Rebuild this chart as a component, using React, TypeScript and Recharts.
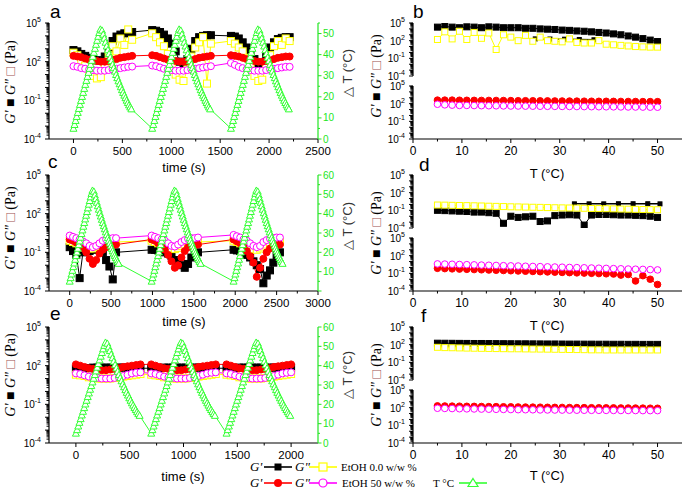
import React from 'react';
import { ComposedChart, Line, XAxis, YAxis } from 'recharts';

const SANS = '"Liberation Sans", Arial, Helvetica, sans-serif';
const SERIF = '"Liberation Serif", "Times New Roman", serif';
const BLACK = '#000000';
const YELLOW = '#ffff00';
const RED = '#ff0000';
const PINK = '#ff00ff';
const GREEN = '#33ff33';
const GREEN_AXIS = '#22e622';

// ---------- temperature ramp of one heating/cooling cycle (s within cycle, deg C) ----------
const tempUpTimes = [0, 11, 22, 33, 44, 55, 66, 77, 88, 99, 110, 121, 132, 143, 154, 165, 176, 187, 198, 209, 220, 231, 242, 253, 264, 275];
const tempUpValues = [5, 6.8, 8.7, 10.6, 12.5, 14.4, 16.3, 18.2, 20.1, 22.0, 23.9, 25.8, 27.7, 29.6, 31.5, 33.4, 35.3, 37.2, 39.1, 41.0, 42.9, 44.8, 46.7, 48.6, 50.4, 52];
const tempDownTimes = [292, 304, 316, 328, 340, 352, 364, 376, 388, 400, 412, 424, 436, 448, 460, 472, 484, 496, 508, 520, 532, 544, 556, 568, 580, 592];
const tempDownValues = [51.5, 49.6, 47.7, 45.8, 44.0, 42.2, 40.4, 38.7, 37.0, 35.3, 33.7, 32.1, 30.5, 29.0, 27.5, 26.1, 24.7, 23.3, 22.0, 20.7, 19.5, 18.3, 17.2, 16.1, 15.1, 14.2];

// ---------- panel a (log10 of modulus, Pa) ----------
const aCycleStarts = [0, 805, 1610];
const aGrid = [0, 40, 80, 120, 160, 200, 240, 280, 320, 360, 400, 440, 480, 520, 560, 600];
const aBlack = [
  [2.9, 2.8, 2.6, 2.45, 2.3, 2.2, 2.1, 2.1, 2.4, 3.0, 3.6, 3.95, 4.1, 4.2, 4.25, 4.3],
  [4.45, 4.4, 4.3, 4.1, 3.8, 3.4, 2.8, 2.0, 1.6, 2.2, 3.0, 3.6, 3.9, 4.0, 4.05, 4.05],
  [4.0, 3.95, 3.8, 3.5, 3.1, 2.7, 2.2, 1.8, 1.7, 2.4, 3.1, 3.5, 3.75, 3.85, 3.9, 3.9],
];
const aYellow = [
  [2.7, 2.5, 2.1, 1.7, 1.2, 0.9, 0.7, 0.8, 1.5, 2.5, 3.2, 2.8, 3.8, 3.3, 4.5, 3.7],
  [4.2, 3.9, 3.5, 3.2, 2.6, 1.8, 1.0, 0.6, 0.5, 1.4, 2.4, 3.1, 3.5, 3.9, 0.3, 3.4],
  [3.6, 3.4, 3.1, 2.8, 2.3, 1.6, 0.9, 0.5, 0.6, 1.6, 2.5, 3.2, 3.6, 3.3, 3.8, 3.6],
];
const aRed = [
  [2.45, 2.4, 2.35, 2.25, 2.15, 2.1, 2.05, 2.0, 2.0, 2.05, 2.15, 2.2, 2.3, 2.35, 2.4, 2.45],
  [2.5, 2.45, 2.35, 2.25, 2.15, 2.1, 2.05, 2.0, 2.0, 2.05, 2.1, 2.2, 2.3, 2.35, 2.4, 2.45],
  [2.5, 2.45, 2.4, 2.3, 2.2, 2.1, 2.05, 2.0, 2.0, 2.05, 2.1, 2.2, 2.3, 2.35, 2.4, 2.4],
];
const aPink = [
  [1.65, 1.6, 1.5, 1.45, 1.4, 1.35, 1.3, 1.3, 1.3, 1.35, 1.4, 1.45, 1.5, 1.55, 1.6, 1.62],
  [1.7, 1.65, 1.55, 1.45, 1.4, 1.35, 1.3, 1.3, 1.3, 1.35, 1.4, 1.45, 1.5, 1.55, 1.6, 1.65],
  [1.9, 1.75, 1.6, 1.5, 1.4, 1.35, 1.3, 1.3, 1.3, 1.35, 1.4, 1.45, 1.5, 1.55, 1.6, 1.6],
];

// ---------- panel c ----------
const cCycleStarts = [0, 990, 1980];
const cGrid = [0, 40, 80, 120, 160, 200, 240, 280, 320, 360, 400, 440, 480, 520, 560];
const cBlack = [
  [-0.6, -0.9, -1.2, -3.0, -1.0, -0.9, -0.9, -0.8, -0.7, -0.8, -1.0, -1.6, -2.1, -3.1, -1.0],
  [-0.8, -0.8, -0.85, -0.9, -1.0, -1.1, -1.3, -1.6, -1.8, -2.0, -2.2, -1.9, -1.4, -1.1, -1.0],
  [-0.8, -0.85, -0.9, -1.0, -1.2, -1.4, -1.7, -2.0, -2.3, -3.4, -2.8, -2.4, -1.8, -1.2, -1.0],
];
const cYellow = [
  [-0.1, -0.2, -0.3, -0.4, -0.5, -0.6, -0.7, -0.7, -0.6, -0.5, -0.4, -0.3, -0.3, -0.25, -0.2],
  [-0.1, -0.2, -0.3, -0.4, -0.5, -0.6, -0.7, -0.75, -0.65, -0.5, -0.4, -0.3, -0.3, -0.25, -0.2],
  [-0.1, -0.2, -0.3, -0.4, -0.5, -0.65, -0.75, -0.8, -0.7, -0.55, -0.4, -0.3, -0.3, -0.25, -0.2],
];
const cRed = [
  [0.0, -0.1, -0.25, -0.45, -0.7, -1.0, -1.5, -1.9, -1.6, -1.1, -0.8, -0.6, -0.5, -0.45, -0.4],
  [0.0, -0.1, -0.3, -0.5, -0.8, -1.2, -1.7, -2.2, -2.0, -1.4, -0.9, -0.6, -0.5, -0.45, -0.4],
  [0.0, -0.15, -0.3, -0.55, -0.9, -1.3, -1.8, -2.9, -2.2, -1.5, -1.0, -0.7, -0.5, -0.45, -0.4],
];
const cPink = [
  [0.3, 0.2, 0.1, 0.0, -0.15, -0.3, -0.5, -0.6, -0.5, -0.3, -0.1, 0.0, 0.05, 0.1, 0.1],
  [0.3, 0.2, 0.1, 0.0, -0.1, -0.3, -0.5, -0.55, -0.4, -0.2, -0.05, 0.05, 0.1, 0.1, 0.15],
  [0.35, 0.25, 0.15, 0.0, -0.1, -0.3, -0.5, -0.6, -0.5, -0.2, -0.05, 0.05, 0.1, 0.15, 0.15],
];

// ---------- panel e ----------
const eCycleStarts = [0, 700, 1400];
const eGrid = [0, 40, 80, 120, 160, 200, 240, 280, 320, 360, 400, 440, 480, 520, 560, 600];
const eBlack = [
  [1.75, 1.75, 1.8, 1.8, 1.85, 1.85, 1.85, 1.85, 1.85, 1.85, 1.85, 1.85, 1.85, 1.85, 1.8, 1.8],
  [1.8, 1.8, 1.8, 1.85, 1.85, 1.85, 1.85, 1.85, 1.85, 1.85, 1.85, 1.85, 1.85, 1.85, 1.8, 1.8],
  [1.8, 1.8, 1.8, 1.85, 1.85, 1.85, 1.85, 1.85, 1.85, 1.85, 1.85, 1.85, 1.85, 1.85, 1.85, 1.85],
];
const eYellow = [
  [1.3, 1.25, 1.2, 1.1, 1.05, 1.0, 1.0, 1.0, 1.0, 1.05, 1.1, 1.15, 1.2, 1.25, 1.3, 1.35],
  [1.3, 1.25, 1.2, 1.1, 1.05, 1.0, 1.0, 1.0, 1.0, 1.05, 1.1, 1.15, 1.2, 1.25, 1.3, 1.35],
  [1.3, 1.25, 1.2, 1.1, 1.05, 1.0, 1.0, 1.0, 1.0, 1.05, 1.1, 1.15, 1.2, 1.25, 1.3, 1.35],
];
const eRed = [
  [2.1, 2.0, 1.9, 1.8, 1.75, 1.7, 1.65, 1.65, 1.7, 1.75, 1.8, 1.9, 1.95, 2.0, 2.05, 2.1],
  [2.1, 2.0, 1.9, 1.8, 1.75, 1.7, 1.65, 1.65, 1.7, 1.75, 1.8, 1.9, 1.95, 2.0, 2.05, 2.1],
  [2.1, 2.0, 1.9, 1.8, 1.75, 1.7, 1.65, 1.65, 1.7, 1.75, 1.8, 1.9, 1.95, 2.0, 2.05, 2.1],
];
const ePink = [
  [1.4, 1.35, 1.25, 1.15, 1.1, 1.05, 1.0, 1.0, 1.0, 1.05, 1.1, 1.2, 1.3, 1.4, 1.45, 1.48],
  [1.4, 1.35, 1.25, 1.15, 1.1, 1.05, 1.0, 1.0, 1.0, 1.05, 1.1, 1.2, 1.3, 1.4, 1.45, 1.48],
  [1.4, 1.35, 1.25, 1.15, 1.1, 1.05, 1.0, 1.0, 1.0, 1.05, 1.1, 1.2, 1.3, 1.4, 1.45, 1.48],
];

// ---------- panels b, d, f (vs temperature) ----------
const tempGrid = [5, 6.5, 8, 9.5, 11, 12.5, 14, 15.5, 17, 18.5, 20, 21.5, 23, 24.5, 26, 27.5, 29, 30.5, 32, 33.5, 35, 36.5, 38, 39.5, 41, 42.5, 44, 45.5, 47, 48.5, 50];
const bBlack = [4.3, 4.4, 4.3, 4.2, 4.35, 4.3, 4.2, 4.35, 4.3, 4.2, 4.2, 4.2, 4.1, 4.1, 4.0, 3.95, 3.9, 3.8, 3.75, 3.65, 3.6, 3.5, 3.4, 3.3, 3.15, 3.0, 2.8, 2.6, 2.35, 2.1, 1.85];
const bYellow = [2.2, 3.5, 2.3, 3.6, 2.2, 3.4, 2.4, 3.3, 0.5, 3.0, 2.6, 2.0, 2.9, 1.9, 2.6, 2.0, 1.9, 1.8, 2.3, 1.7, 1.6, 1.6, 2.0, 1.4, 1.3, 1.2, 1.1, 1.0, 0.95, 0.9, 0.9];
const bBranchT = [25, 28, 31, 34, 37];
const bBranch = [2.3, 2.28, 2.25, 2.2, 2.15];
const bRed = [2.6, 2.6, 2.6, 2.58, 2.57, 2.56, 2.55, 2.55, 2.54, 2.53, 2.52, 2.5, 2.5, 2.49, 2.48, 2.47, 2.46, 2.45, 2.44, 2.43, 2.42, 2.41, 2.4, 2.4, 2.39, 2.38, 2.37, 2.36, 2.35, 2.35, 2.34];
const bPink = [1.9, 1.8, 1.75, 1.7, 1.7, 1.68, 1.66, 1.65, 1.64, 1.62, 1.6, 1.6, 1.58, 1.57, 1.56, 1.55, 1.54, 1.53, 1.52, 1.51, 1.5, 1.49, 1.48, 1.47, 1.46, 1.45, 1.44, 1.43, 1.42, 1.41, 1.4];

const dBlack = [-1.0, -1.05, -1.1, -1.15, -1.2, -1.3, -1.3, -1.4, -1.5, -3.2, -2.0, -2.2, -2.1, -2.0, -2.9, -2.8, -1.9, -1.8, -1.75, -1.8, -3.5, -1.8, -1.7, -1.7, -1.75, -1.8, -1.8, -1.85, -1.9, -2.0, -2.2];
const dYellow = [-0.1, -0.12, -0.15, -0.18, -0.2, -0.23, -0.26, -0.3, -0.33, -0.36, -0.4, -0.42, -0.45, -0.48, -0.5, -0.53, -0.56, -0.58, -0.6, -0.62, -0.65, -0.68, -0.7, -0.72, -0.75, -0.78, -0.8, -0.83, -0.86, -0.88, -0.9];
const dBranchT = [33, 36, 39, 42, 45, 48, 50.5];
const dBranch = [0.1, 0.1, 0.1, 0.12, 0.12, 0.12, 0.1];
const dRed = [-0.15, -0.2, -0.24, -0.28, -0.32, -0.36, -0.4, -0.44, -0.48, -0.52, -0.56, -0.6, -0.64, -0.68, -0.72, -0.76, -0.8, -0.84, -0.88, -0.92, -0.96, -1.0, -1.04, -1.08, -1.12, -1.3, -1.2, -2.3, -1.4, -2.0, -2.9];
const dPink = [0.6, 0.57, 0.54, 0.5, 0.47, 0.44, 0.4, 0.37, 0.34, 0.3, 0.27, 0.24, 0.2, 0.17, 0.14, 0.1, 0.07, 0.04, 0.0, -0.03, -0.06, -0.1, -0.13, -0.16, -0.2, -0.23, -0.27, -0.3, -0.33, -0.37, -0.42];

const fBlack = [2.25, 2.24, 2.23, 2.22, 2.21, 2.2, 2.2, 2.19, 2.18, 2.17, 2.16, 2.15, 2.15, 2.14, 2.13, 2.12, 2.12, 2.11, 2.1, 2.1, 2.09, 2.09, 2.08, 2.08, 2.07, 2.07, 2.06, 2.06, 2.05, 2.05, 2.05];
const fYellow = [1.55, 1.5, 1.48, 1.45, 1.42, 1.4, 1.38, 1.36, 1.34, 1.32, 1.3, 1.3, 1.28, 1.26, 1.25, 1.24, 1.22, 1.2, 1.18, 1.17, 1.15, 1.12, 1.12, 1.1, 1.1, 1.1, 1.1, 1.1, 1.1, 1.1, 1.1];
const fRed = [2.3, 2.28, 2.26, 2.25, 2.23, 2.22, 2.2, 2.18, 2.17, 2.15, 2.14, 2.12, 2.1, 2.09, 2.08, 2.06, 2.05, 2.04, 2.02, 2.01, 2.0, 1.99, 1.98, 1.97, 1.96, 1.95, 1.94, 1.93, 1.92, 1.91, 1.9];
const fPink = [1.9, 1.87, 1.85, 1.82, 1.8, 1.78, 1.76, 1.74, 1.72, 1.7, 1.68, 1.66, 1.65, 1.64, 1.62, 1.61, 1.6, 1.59, 1.58, 1.57, 1.56, 1.55, 1.55, 1.54, 1.53, 1.52, 1.52, 1.51, 1.5, 1.5, 1.5];

// ---------- axis tick labels ----------
const logMajorLabels = [-4, -1, 2, 5];
const aTimeMajor = [0, 500, 1000, 1500, 2000, 2500];
const aTimeMinor = [250, 750, 1250, 1750, 2250];
const cTimeMajor = [0, 500, 1000, 1500, 2000, 2500, 3000];
const cTimeMinor = [250, 750, 1250, 1750, 2250, 2750];
const eTimeMajor = [0, 500, 1000, 1500, 2000];
const eTimeMinor = [250, 750, 1250, 1750];
const tMajor = [0, 10, 20, 30, 40, 50];
const tMinor = [5, 15, 25, 35, 45];
const aTempLabels = [0, 10, 20, 30, 40, 50];
const cTempLabels = [10, 20, 30, 40, 50, 60];
const eTempLabels = [0, 10, 20, 30, 40, 50, 60];

// ---------- helpers ----------
type Pt = { t: number; v: number };
function fromCycles(starts: number[], grid: number[], cycles: number[][]): Pt[] {
  const out: Pt[] = [];
  cycles.forEach((vals, c) => vals.forEach((v, i) => out.push({ t: starts[c] + grid[i], v })));
  return out;
}
function tempSeries(starts: number[]): Pt[] {
  const out: Pt[] = [];
  starts.forEach((s) => {
    tempUpTimes.forEach((t, i) => out.push({ t: s + t, v: tempUpValues[i] }));
    tempDownTimes.forEach((t, i) => out.push({ t: s + t, v: tempDownValues[i] }));
  });
  return out;
}
function pairs(xs: number[], ys: number[]): Pt[] {
  return xs.map((t, i) => ({ t, v: ys[i] }));
}

const logTicks: number[] = [];
for (let n = -4; n < 5; n++) for (let k = 1; k < 10; k++) logTicks.push(n + Math.log10(k));
logTicks.push(5);

function mergeTicks(a: number[], b: number[]) {
  return [...a, ...b].sort((x, y) => x - y);
}

const sqDot = (fill: string, stroke: string, s: number) => (p: any) => {
  if (p.cx == null || p.cy == null) return <g key={'n' + p.index} />;
  return <rect key={'s' + p.index} x={p.cx - s / 2} y={p.cy - s / 2} width={s} height={s} fill={fill} stroke={stroke} strokeWidth={1} />;
};
const circDot = (fill: string, stroke: string, r: number) => (p: any) => {
  if (p.cx == null || p.cy == null) return <g key={'n' + p.index} />;
  return <circle key={'c' + p.index} cx={p.cx} cy={p.cy} r={r} fill={fill} stroke={stroke} strokeWidth={1} />;
};
const triDot = (stroke: string, s: number) => (p: any) => {
  if (p.cx == null || p.cy == null) return <g key={'n' + p.index} />;
  const h = s / 2;
  return <path key={'t' + p.index} d={`M${p.cx},${p.cy - h}L${p.cx + h},${p.cy + h * 0.8}L${p.cx - h},${p.cy + h * 0.8}Z`} fill="#fff" stroke={stroke} strokeWidth={1} />;
};

function LogTick(props: any) {
  const { x, y, payload, fs = 10 } = props;
  const v = payload.value as number;
  const r = Math.round(v);
  const isInt = Math.abs(v - r) < 1e-6;
  const major = isInt && logMajorLabels.includes(r);
  const len = isInt ? 4 : 2.5;
  return (
    <g>
      <line x1={x - len} x2={x} y1={y} y2={y} stroke="#000" strokeWidth={1} />
      {major && (
        <text x={x - 8} y={y + 4} textAnchor="end" fontSize={fs} fontFamily={SANS} fill="#000">
          10<tspan dy={-5} fontSize={fs * 0.7}>{String(r)}</tspan>
        </text>
      )}
    </g>
  );
}

function XTick(props: any) {
  const { x, y, payload, majors, fs = 11.5 } = props;
  const v = payload.value as number;
  const major = majors.includes(v);
  return (
    <g>
      <line x1={x} x2={x} y1={y} y2={y + (major ? 4 : 2.5)} stroke="#000" strokeWidth={1} />
      {major && (
        <text x={x} y={y + 16} textAnchor="middle" fontSize={fs} fontFamily={SANS} fill="#000">
          {String(v)}
        </text>
      )}
    </g>
  );
}

function TempTick(props: any) {
  const { x, y, payload, labels } = props;
  const v = payload.value as number;
  const major = v % 10 === 0;
  return (
    <g>
      <line x1={x} x2={x + (major ? 3.5 : 2)} y1={y} y2={y} stroke={GREEN_AXIS} strokeWidth={1} />
      {major && labels.includes(v) && (
        <text x={x + 5} y={y + 3.5} textAnchor="start" fontSize={10} fontFamily={SANS} fill={GREEN_AXIS}>
          {String(v)}
        </text>
      )}
    </g>
  );
}

function lineEl(key: string, data: Pt[], yAxisId: string, color: string, dot: any, width = 1) {
  return (
    <Line
      key={key}
      data={data}
      dataKey="v"
      yAxisId={yAxisId}
      type="linear"
      stroke={color}
      strokeWidth={width}
      dot={dot}
      activeDot={false}
      isAnimationActive={false}
      legendType="none"
    />
  );
}

type TimePanelProps = {
  plotTop: number;
  xDomain: [number, number];
  xMajor: number[];
  xMinor: number[];
  tMax: number;
  tLabels: number[];
  black: Pt[];
  yellow: Pt[];
  red: Pt[];
  pink: Pt[];
  temp: Pt[];
};

function TimePanel(p: TimePanelProps) {
  const tTicks: number[] = [];
  for (let v = 0; v <= p.tMax; v += 5) tTicks.push(v);
  return (
    <div style={{ position: 'absolute', left: 0, top: p.plotTop - 10 }}>
      <ComposedChart width={345} height={151} margin={{ top: 10, right: 0, bottom: 0, left: 0 }}>
        <XAxis
          type="number"
          dataKey="t"
          domain={p.xDomain}
          ticks={mergeTicks(p.xMajor, p.xMinor)}
          interval={0}
          allowDataOverflow
          height={25}
          tickLine={false}
          tickSize={0}
          tickMargin={0}
          tick={<XTick majors={p.xMajor} />}
          axisLine={{ stroke: '#000', strokeWidth: 1.2 }}
        />
        <YAxis
          yAxisId="L"
          type="number"
          domain={[-4, 5]}
          ticks={logTicks}
          interval={0}
          allowDataOverflow
          width={49}
          tickLine={false}
          tickSize={0}
          tickMargin={0}
          tick={<LogTick />}
          axisLine={{ stroke: '#000', strokeWidth: 1.2 }}
        />
        <YAxis
          yAxisId="R"
          orientation="right"
          type="number"
          domain={[0, p.tMax]}
          ticks={tTicks}
          interval={0}
          allowDataOverflow
          width={27}
          tickLine={false}
          tickSize={0}
          tickMargin={0}
          tick={<TempTick labels={p.tLabels} />}
          axisLine={{ stroke: GREEN_AXIS, strokeWidth: 1.2 }}
        />
        {lineEl('black', p.black, 'L', BLACK, sqDot(BLACK, BLACK, 7))}
        {lineEl('yellow', p.yellow, 'L', YELLOW, sqDot('#fff', YELLOW, 7))}
        {lineEl('red', p.red, 'L', RED, circDot(RED, RED, 3.5))}
        {lineEl('pink', p.pink, 'L', PINK, circDot('#fff', PINK, 3.5))}
        {lineEl('temp', p.temp, 'R', GREEN, triDot(GREEN, 7))}
      </ComposedChart>
    </div>
  );
}

type SubProps = {
  plotTop: number;
  withX: boolean;
  lines: React.ReactNode[];
};

function TempSubPanel(p: SubProps) {
  const mTop = 10;
  const mBottom = p.withX ? 0 : 8;
  const h = p.withX ? mTop + 53 + 25 : mTop + 53 + mBottom;
  return (
    <div style={{ position: 'absolute', left: 345, top: p.plotTop - mTop }}>
      <ComposedChart width={340} height={h} margin={{ top: mTop, right: 3, bottom: mBottom, left: 0 }}>
        {p.withX ? (
          <XAxis
            type="number"
            dataKey="t"
            domain={[0, 55]}
            ticks={mergeTicks(tMajor, tMinor)}
            interval={0}
            allowDataOverflow
            height={25}
            tickLine={false}
            tickSize={0}
            tickMargin={0}
            tick={<XTick majors={tMajor} fs={12} />}
            axisLine={{ stroke: '#000', strokeWidth: 1.2 }}
          />
        ) : (
          <XAxis hide type="number" dataKey="t" domain={[0, 55]} allowDataOverflow />
        )}
        <YAxis
          yAxisId="L"
          type="number"
          domain={[-4, 5]}
          ticks={logTicks}
          interval={0}
          allowDataOverflow
          width={68}
          tickLine={false}
          tickSize={0}
          tickMargin={0}
          tick={<LogTick />}
          axisLine={{ stroke: '#000', strokeWidth: 1.2 }}
        />
        {p.lines}
      </ComposedChart>
    </div>
  );
}

function LeftLabel({ x, y }: { x: number; y: number }) {
  return (
    <text transform={`rotate(-90 ${x} ${y})`} x={x} y={y} textAnchor="middle" fontFamily={SERIF} fontSize={14} fill="#000">
      <tspan fontStyle="italic">G'</tspan>
      {' \u25A0 '}
      <tspan fontStyle="italic">G"</tspan>
      {' '}
      <tspan fill="#a05050">{'\u25A1'}</tspan>
      {' (Pa)'}
    </text>
  );
}

function TempLabel({ x, y }: { x: number; y: number }) {
  return (
    <text transform={`rotate(-90 ${x} ${y})`} x={x} y={y} textAnchor="middle" fontFamily={SANS} fontSize={13} fill="#333">
      {'\u25B3 T (\u00B0C)'}
    </text>
  );
}

function LegendMarker({ x, y, color, kind }: { x: number; y: number; color: string; kind: string }) {
  let m: React.ReactNode = null;
  if (kind === 'sqf') m = <rect x={x - 3.5} y={y - 3.5} width={7} height={7} fill={color} />;
  if (kind === 'sqo') m = <rect x={x - 4} y={y - 4} width={8} height={8} fill="#fff" stroke={color} strokeWidth={1.2} />;
  if (kind === 'cf') m = <circle cx={x} cy={y} r={4} fill={color} />;
  if (kind === 'co') m = <circle cx={x} cy={y} r={4} fill="#fff" stroke={color} strokeWidth={1.2} />;
  if (kind === 'tri') m = <path d={`M${x},${y - 4.5}L${x + 5},${y + 3.5}L${x - 5},${y + 3.5}Z`} fill="#fff" stroke={color} strokeWidth={1.2} />;
  return (
    <g>
      <line x1={x - 14} x2={x + 14} y1={y} y2={y} stroke={color} strokeWidth={1.6} />
      {m}
    </g>
  );
}

function Overlay() {
  return (
    <svg width={685} height={492} style={{ position: 'absolute', left: 0, top: 0, pointerEvents: 'none' }}>
      {/* panel letters */}
      <g fontFamily={SANS} fontSize={19} fill="#000">
        <text x={50} y={18}>a</text>
        <text x={413} y={18}>b</text>
        <text x={48} y={168}>c</text>
        <text x={419} y={171}>d</text>
        <text x={50} y={320}>e</text>
        <text x={421} y={322}>f</text>
      </g>
      {/* axis titles */}
      <g fontFamily={SANS} fontSize={13} fill="#000" textAnchor="middle">
        <text x={184} y={172}>time (s)</text>
        <text x={184} y={326}>time (s)</text>
        <text x={183} y={481}>time (s)</text>
        <text x={547} y={178}>T (°C)</text>
        <text x={547} y={330}>T (°C)</text>
        <text x={547} y={480}>T (°C)</text>
      </g>
      <LeftLabel x={15} y={82} />
      <LeftLabel x={15} y={228} />
      <LeftLabel x={15} y={375} />
      <LeftLabel x={381} y={76} />
      <LeftLabel x={381} y={233} />
      <LeftLabel x={381} y={385} />
      <TempLabel x={352} y={73} />
      <TempLabel x={352} y={226} />
      <TempLabel x={352} y={375} />
      {/* legend */}
      <g fontFamily={SERIF} fill="#000">
        <text x={250} y={471} fontSize={13} fontStyle="italic">G'</text>
        <LegendMarker x={278} y={467} color={BLACK} kind="sqf" />
        <text x={295} y={471} fontSize={13} fontStyle="italic">G"</text>
        <LegendMarker x={323} y={467} color={YELLOW} kind="sqo" />
        <text x={341} y={471} fontSize={11}>EtOH 0.0 w/w %</text>
        <text x={250} y={487} fontSize={13} fontStyle="italic">G'</text>
        <LegendMarker x={278} y={483} color={RED} kind="cf" />
        <text x={295} y={487} fontSize={13} fontStyle="italic">G"</text>
        <LegendMarker x={323} y={483} color={PINK} kind="co" />
        <text x={342} y={487} fontSize={11}>EtOH 50 w/w %</text>
        <text x={433} y={487} fontSize={11}>T °C</text>
        <LegendMarker x={473} y={483} color={GREEN} kind="tri" />
      </g>
    </svg>
  );
}

export default function App() {
  const aTemp = tempSeries(aCycleStarts);
  const cTemp = tempSeries(cCycleStarts);
  const eTemp = tempSeries(eCycleStarts);

  const rightRows = [
    { top: 23, hi: [bBlack, bYellow], branch: pairs(bBranchT, bBranch), lo: [bRed, bPink] },
    { top: 175, hi: [dBlack, dYellow], branch: pairs(dBranchT, dBranch), lo: [dRed, dPink] },
    { top: 327, hi: [fBlack, fYellow], branch: null as Pt[] | null, lo: [fRed, fPink] },
  ];

  return (
    <div style={{ position: 'absolute', left: 0, top: 0, width: 685, height: 492, background: '#fff', overflow: 'hidden' }}>
      <TimePanel
        plotTop={23}
        xDomain={[-250, 2500]}
        xMajor={aTimeMajor}
        xMinor={aTimeMinor}
        tMax={55}
        tLabels={aTempLabels}
        black={fromCycles(aCycleStarts, aGrid, aBlack)}
        yellow={fromCycles(aCycleStarts, aGrid, aYellow)}
        red={fromCycles(aCycleStarts, aGrid, aRed)}
        pink={fromCycles(aCycleStarts, aGrid, aPink)}
        temp={aTemp}
      />
      <TimePanel
        plotTop={175}
        xDomain={[-250, 3000]}
        xMajor={cTimeMajor}
        xMinor={cTimeMinor}
        tMax={60}
        tLabels={cTempLabels}
        black={fromCycles(cCycleStarts, cGrid, cBlack)}
        yellow={fromCycles(cCycleStarts, cGrid, cYellow)}
        red={fromCycles(cCycleStarts, cGrid, cRed)}
        pink={fromCycles(cCycleStarts, cGrid, cPink)}
        temp={cTemp}
      />
      <TimePanel
        plotTop={327}
        xDomain={[-250, 2250]}
        xMajor={eTimeMajor}
        xMinor={eTimeMinor}
        tMax={60}
        tLabels={eTempLabels}
        black={fromCycles(eCycleStarts, eGrid, eBlack)}
        yellow={fromCycles(eCycleStarts, eGrid, eYellow)}
        red={fromCycles(eCycleStarts, eGrid, eRed)}
        pink={fromCycles(eCycleStarts, eGrid, ePink)}
        temp={eTemp}
      />
      {rightRows.map((row, i) => (
        <React.Fragment key={i}>
          <TempSubPanel
            plotTop={row.top}
            withX={false}
            lines={[
              lineEl('hb', pairs(tempGrid, row.hi[0]), 'L', BLACK, sqDot(BLACK, BLACK, 6)),
              ...(row.branch ? [lineEl('hbb', row.branch, 'L', BLACK, sqDot(BLACK, BLACK, 4), 1.5)] : []),
              lineEl('hy', pairs(tempGrid, row.hi[1]), 'L', YELLOW, sqDot('#fff', YELLOW, 6)),
            ]}
          />
          <TempSubPanel
            plotTop={row.top + 63}
            withX={true}
            lines={[
              lineEl('lr', pairs(tempGrid, row.lo[0]), 'L', RED, circDot(RED, RED, 3.3)),
              lineEl('lp', pairs(tempGrid, row.lo[1]), 'L', PINK, circDot('#fff', PINK, 3.3)),
            ]}
          />
        </React.Fragment>
      ))}
      <Overlay />
    </div>
  );
}
